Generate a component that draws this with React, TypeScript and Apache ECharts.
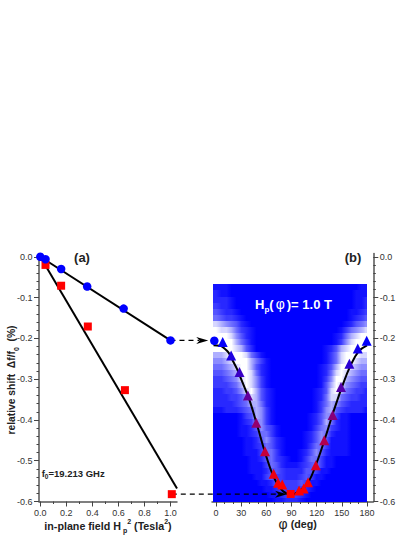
import React, { useEffect, useRef } from "react";
import * as echarts from "echarts";

// panel (a)
const fieldBlue = [0, 0.04, 0.16, 0.36, 0.64, 1.0];
const shiftBlue = [0, -0.006, -0.03, -0.073, -0.127, -0.205];
const fieldRed = [0.04, 0.16, 0.365, 0.65, 1.01];
const shiftRed = [-0.02, -0.071, -0.171, -0.327, -0.582];
const fitBlue = [[0, 0], [1.0, -0.205]];
const fitRed = [[0, 0], [1.05, -0.568]];

// panel (b)
const phiTri = [8, 18, 28, 38, 48, 58.4, 68.7, 74, 79, 99, 104.5, 109.7, 119, 129, 139, 149, 159, 169, 179.6];
const shiftTri = [-0.209, -0.242, -0.2825, -0.34, -0.407, -0.477, -0.532, -0.554, -0.5585, -0.573, -0.568, -0.553, -0.511, -0.45, -0.388, -0.319, -0.262, -0.225, -0.206];
const phiFit = [-3, 5, 10, 15, 20, 25, 30, 40, 50, 60, 70, 80, 90, 100, 110, 120, 130, 140, 150, 160, 170, 180];
const shiftFit = [-0.217, -0.218, -0.225, -0.235, -0.255, -0.275, -0.3, -0.352, -0.42, -0.49, -0.545, -0.575, -0.583, -0.573, -0.553, -0.505, -0.445, -0.38, -0.32, -0.268, -0.232, -0.217];
const circlePoint = [-2, -0.206];
const squarePoint = [89, -0.5815];

// dashed arrows: from field, shift, to field
const arrows = [[1.0, -0.205, 1.29], [1.01, -0.582, 1.895]];

// background map: brightness digits per row, read from each outer edge inwards
const heatLeft = [
  "1110", "2110", "2221", "32210", "432210", "5433210", "87654210", "98875321", "99986421",
  "99997531", "999987420", "7789998531", "66789997531", "55678997421", "44567998521", "33456898631",
  "33345798631", "223346897421", "222334687421", "222234577521", "112223457631", "000001347631",
  "000001236631", "0000011246431", "0000011235531", "00000011246421", "00000011235421", "00000011135531",
  "000000011245321", "0000000111354211", "0000000111244322", "0000000011343322", "0000000001124333",
  "0000000000112333", "0000000000011233", "0000000000001122",
];
const heatRight = [
  "11", "111", "211", "2110", "32110", "43210", "654210", "8765310", "9987521",
  "99986310", "999987421", "889998531", "778998531", "6678997421", "5567898521", "4456799631",
  "3345689741", "23345798421", "22334588521", "22223467531", "12222347631", "000011366421",
  "000011257421", "000011236531", "0000111256421", "0000111146421", "0000111135531", "00001111246421",
  "00000001135531", "000000011354321", "000000001134422", "000000000113432", "000000000011343",
  "000000000001233", "000000000000123", "000000000000012",
];
const heatRamp = [0, 18, 40, 60, 85, 110, 140, 175, 215, 255];

// ticks
const fieldTicks = [0, 0.2, 0.4, 0.6, 0.8, 1.0];
const fieldMinor = [0.1, 0.3, 0.5, 0.7, 0.9];
const phiTicks = [0, 30, 60, 90, 120, 150, 180];
const phiMinor = [10, 20, 40, 50, 70, 80, 100, 110, 130, 140, 160, 170];
const shiftTicks = [0, -0.1, -0.2, -0.3, -0.4, -0.5, -0.6];
const shiftMinor = [-0.02, -0.04, -0.06, -0.08, -0.12, -0.14, -0.16, -0.18, -0.22, -0.24, -0.26, -0.28, -0.32, -0.34, -0.36, -0.38, -0.42, -0.44, -0.46, -0.48, -0.52, -0.54, -0.56, -0.58];

const FONT = "'Liberation Sans', Arial, sans-serif";
const AXIS = "#555555";
const LABEL = "#333333";

function digitAt(r: number, c: number) {
  if (c < 0 || c > 30) return null;
  const src = c <= 15 ? heatLeft[r][c] : heatRight[r][30 - c];
  return src ? Number(src) : 0;
}

function heatData() {
  const out: number[][] = [];
  heatLeft.forEach((_row, i) => {
    const shift = -0.075 - 0.015 * i;
    for (let c = 0; c <= 30; c++) {
      const d = digitAt(i, c) as number;
      const l = digitAt(i, c - 1);
      const r = digitAt(i, c + 1);
      out.push([c * 6, shift, d, l === null ? d : l, r === null ? d : r]);
    }
  });
  return out;
}

function blue(level: number) {
  const v = Math.round(level);
  return `rgb(${v},${v},255)`;
}

function majorAxis(kind: "x" | "y", gridIndex: number, min: number, max: number, ticks: number[], extra: any = {}) {
  return {
    type: "value",
    gridIndex,
    min,
    max,
    position: kind === "x" ? "bottom" : "left",
    splitLine: { show: false },
    axisLine: { show: true, onZero: false, lineStyle: { color: AXIS, width: 1.5 } },
    axisTick: { show: true, inside: false, length: 5, customValues: ticks, lineStyle: { color: "#444444", width: 1 } },
    axisLabel: {
      show: true,
      margin: 6.5,
      customValues: ticks,
      color: LABEL,
      fontFamily: FONT,
      fontSize: 9,
      formatter: (v: number) => (kind === "y" || gridIndex === 0 ? v.toFixed(1) : String(v)),
    },
    ...extra,
  };
}

function minorAxis(kind: "x" | "y", gridIndex: number, min: number, max: number, ticks: number[], extra: any = {}) {
  return {
    type: "value",
    gridIndex,
    min,
    max,
    position: kind === "x" ? "bottom" : "left",
    splitLine: { show: false },
    axisLine: { show: false, onZero: false },
    axisTick: { show: true, length: 2.5, customValues: ticks, lineStyle: { color: "#444444", width: 1 } },
    axisLabel: { show: false },
    ...extra,
  };
}

const TEXT_RICH_BASE = { fontFamily: FONT, fontWeight: "bold" as const };

export default function App() {
  const ref = useRef<HTMLDivElement>(null);
  useEffect(() => {
    if (!ref.current) return;
    const chart = echarts.init(ref.current, undefined, { renderer: "svg" });
    const xLeft: [number, number] = [-0.01, 1.05];
    const xRight: [number, number] = [-4.77, 187.5];
    const y: [number, number] = [-0.6, 0.008];

    chart.setOption({
      animation: false,
      backgroundColor: "#ffffff",
      grid: [
        { left: 39, top: 253.5, width: 138, height: 248 },
        { left: 212, top: 253.5, width: 161.3, height: 248 },
      ],
      xAxis: [
        majorAxis("x", 0, xLeft[0], xLeft[1], fieldTicks),
        minorAxis("x", 0, xLeft[0], xLeft[1], fieldMinor),
        majorAxis("x", 1, xRight[0], xRight[1], phiTicks),
        minorAxis("x", 1, xRight[0], xRight[1], phiMinor),
      ],
      yAxis: [
        majorAxis("y", 0, y[0], y[1], shiftTicks),
        minorAxis("y", 0, y[0], y[1], shiftMinor),
        majorAxis("y", 1, y[0], y[1], shiftTicks, { position: "right" }),
        minorAxis("y", 1, y[0], y[1], shiftMinor, { position: "right" }),
      ],
      visualMap: {
        type: "continuous",
        show: false,
        seriesIndex: 2,
        dimension: 1,
        min: -0.56,
        max: -0.2,
        inRange: { color: ["#ff0000", "#800080", "#0000ff"] },
      },
      series: [
        {
          type: "custom",
          xAxisIndex: 2,
          yAxisIndex: 2,
          z: 1,
          silent: true,
          data: heatData(),
          encode: { x: 0, y: 1 },
          renderItem: (_p: any, api: any) => {
            const phi = api.value(0);
            const s = api.value(1);
            const a = api.coord([phi - 3, s + 0.0075]);
            const b = api.coord([Math.min(phi + 3, 180), Math.max(s - 0.0075, -0.6)]);
            const x0 = Math.round(a[0]);
            const y0 = Math.round(a[1]);
            const c = heatRamp[api.value(2)];
            const l = heatRamp[api.value(3)];
            const r = heatRamp[api.value(4)];
            const fill =
              l === c && r === c
                ? blue(c)
                : new echarts.graphic.LinearGradient(0, 0, 1, 0, [
                    { offset: 0, color: blue((l + c) / 2) },
                    { offset: 0.5, color: blue(c) },
                    { offset: 1, color: blue((c + r) / 2) },
                  ]);
            return {
              type: "rect",
              shape: { x: x0, y: y0, width: Math.round(b[0]) - x0, height: Math.round(b[1]) - y0 },
              style: { fill },
            };
          },
        },
        {
          type: "line",
          xAxisIndex: 2,
          yAxisIndex: 2,
          z: 3,
          smooth: 0.4,
          showSymbol: false,
          clip: false,
          lineStyle: { color: "#000000", width: 2 },
          data: phiFit.map((p, i) => [p, shiftFit[i]]),
        },
        {
          type: "scatter",
          xAxisIndex: 2,
          yAxisIndex: 2,
          z: 4,
          symbol: "triangle",
          symbolSize: 10,
          itemStyle: { opacity: 1 },
          data: phiTri.map((p, i) => [p, shiftTri[i]]),
        },
        {
          type: "scatter",
          xAxisIndex: 2,
          yAxisIndex: 2,
          z: 4,
          clip: false,
          symbol: "circle",
          symbolSize: 8.5,
          itemStyle: { color: "#0000ff", opacity: 1 },
          data: [circlePoint],
        },
        {
          type: "scatter",
          xAxisIndex: 2,
          yAxisIndex: 2,
          z: 4,
          symbol: "rect",
          symbolSize: 8,
          itemStyle: { color: "#ff0000", opacity: 1 },
          data: [squarePoint],
        },
        {
          type: "line",
          xAxisIndex: 0,
          yAxisIndex: 0,
          z: 3,
          showSymbol: false,
          lineStyle: { color: "#000000", width: 2 },
          data: fitBlue,
        },
        {
          type: "line",
          xAxisIndex: 0,
          yAxisIndex: 0,
          z: 3,
          showSymbol: false,
          lineStyle: { color: "#000000", width: 2 },
          data: fitRed,
        },
        {
          type: "scatter",
          xAxisIndex: 0,
          yAxisIndex: 0,
          z: 4,
          symbol: "rect",
          symbolSize: 8,
          clip: false,
          itemStyle: { color: "#ff0000", opacity: 1 },
          data: fieldRed.map((f, i) => [f, shiftRed[i]]),
        },
        {
          type: "scatter",
          xAxisIndex: 0,
          yAxisIndex: 0,
          z: 5,
          symbol: "circle",
          symbolSize: 8.5,
          clip: false,
          itemStyle: { color: "#0000ff", opacity: 1 },
          data: fieldBlue.map((f, i) => [f, shiftBlue[i]]),
        },
        {
          type: "custom",
          xAxisIndex: 0,
          yAxisIndex: 0,
          z: 3,
          clip: false,
          silent: true,
          data: arrows,
          encode: { x: [0, 2], y: 1 },
          renderItem: (_p: any, api: any) => {
            const a = api.coord([api.value(0), api.value(1)]);
            const b = api.coord([api.value(2), api.value(1)]);
            const tx = b[0];
            const ty = a[1];
            return {
              type: "group",
              children: [
                {
                  type: "line",
                  shape: { x1: a[0], y1: ty, x2: tx - 9, y2: ty },
                  style: { stroke: "#000000", lineWidth: 1.3, lineDash: [5, 4] },
                },
                {
                  type: "polygon",
                  shape: { points: [[tx, ty], [tx - 12, ty - 3.5], [tx - 8.5, ty], [tx - 12, ty + 3.5]] },
                  style: { fill: "#000000" },
                },
              ],
            };
          },
        },
      ],
      graphic: [
        {
          type: "text", x: 82, y: 257.7, z: 20,
          style: { text: "(a)", fontFamily: FONT, fontWeight: "bold", fontSize: 13, fill: "#222222", align: "center", verticalAlign: "middle" },
        },
        {
          type: "text", x: 353, y: 257.7, z: 20,
          style: { text: "(b)", fontFamily: FONT, fontWeight: "bold", fontSize: 13, fill: "#222222", align: "center", verticalAlign: "middle" },
        },
        {
          type: "text", x: 11.7, y: 380, rotation: Math.PI / 2, z: 20,
          style: {
            text: "{m|relative shift  Δf/f}{s|0}{m|  (%)}",
            align: "center", verticalAlign: "middle",
            rich: {
              m: { ...TEXT_RICH_BASE, fontSize: 10.3, lineHeight: 16, verticalAlign: "middle", fill: "#222222" },
              s: { ...TEXT_RICH_BASE, fontSize: 7, lineHeight: 8, verticalAlign: "bottom", fill: "#222222" },
            },
          },
        },
        {
          type: "text", x: 108, y: 526, z: 20,
          style: {
            text: "{m|in-plane field H}{s|p}{u|2}{m| (Tesla}{u|2}{m|)}",
            align: "center", verticalAlign: "middle",
            rich: {
              m: { ...TEXT_RICH_BASE, fontSize: 10.7, lineHeight: 16, verticalAlign: "middle", fill: "#222222" },
              s: { ...TEXT_RICH_BASE, fontSize: 7, lineHeight: 8, padding: [0, 0, 0, 2], verticalAlign: "bottom", fill: "#222222" },
              u: { ...TEXT_RICH_BASE, fontSize: 7, lineHeight: 8, verticalAlign: "top", fill: "#222222" },
            },
          },
        },
        {
          type: "text", x: 41.7, y: 473, z: 20,
          style: {
            text: "{m|f}{s|0}{m|=19.213 GHz}",
            align: "left", verticalAlign: "middle",
            rich: {
              m: { ...TEXT_RICH_BASE, fontSize: 9.5, lineHeight: 14, verticalAlign: "middle", fill: "#222222" },
              s: { ...TEXT_RICH_BASE, fontSize: 6.5, lineHeight: 7, verticalAlign: "bottom", fill: "#222222" },
            },
          },
        },
        {
          type: "text", x: 293.5, y: 304, z: 20,
          style: {
            text: "{m|H}{s|p}{m|(}{f|φ}{m|)= 1.0 T}",
            align: "center", verticalAlign: "middle",
            rich: {
              m: { ...TEXT_RICH_BASE, fontSize: 13, lineHeight: 18, verticalAlign: "middle", fill: "#ffffff" },
              f: { fontFamily: FONT, fontSize: 14, lineHeight: 18, padding: [0, 2, 0, 2], verticalAlign: "middle", fill: "#ffffff" },
              s: { ...TEXT_RICH_BASE, fontSize: 8, lineHeight: 9, verticalAlign: "bottom", fill: "#ffffff" },
            },
          },
        },
        {
          type: "text", x: 297.7, y: 524, z: 20,
          style: {
            text: "{f|φ}{m| (deg)}",
            align: "center", verticalAlign: "middle",
            rich: {
              m: { ...TEXT_RICH_BASE, fontSize: 10.7, lineHeight: 16, verticalAlign: "middle", fill: "#222222" },
              f: { fontFamily: FONT, fontSize: 14, lineHeight: 16, verticalAlign: "middle", fill: "#222222" },
            },
          },
        },
      ],
    });
    return () => chart.dispose();
  }, []);
  return <div ref={ref} style={{ position: "absolute", left: 0, top: 0, width: 415, height: 537 }} />;
}
